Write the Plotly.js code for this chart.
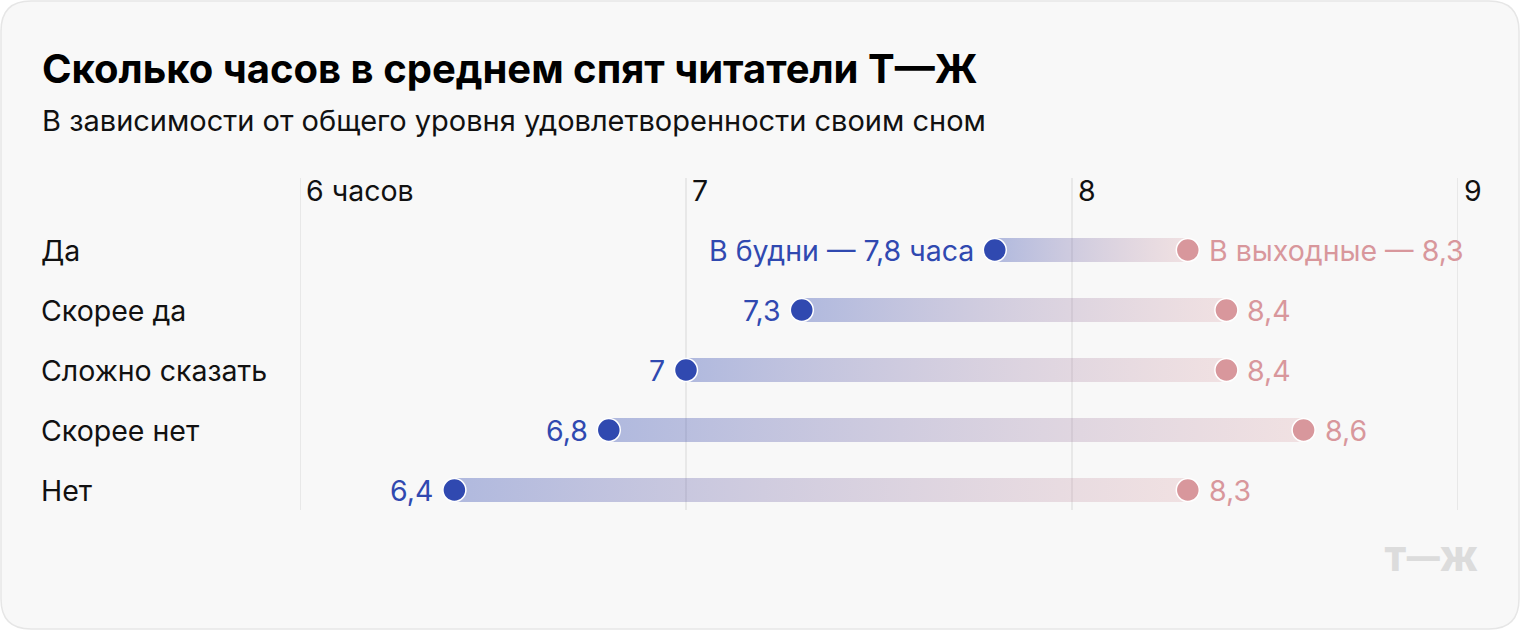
<!DOCTYPE html>
<html><head><meta charset="utf-8">
<script src="https://cdn.plot.ly/plotly-3.0.1.min.js"></script>
<style>html,body{margin:0;padding:0;background:#fff;}#chart{width:1520px;height:630px;}</style>
</head><body><div id="chart"></div>
<script>
// ---- data ----
const categories = ['Да', 'Скорее да', 'Сложно сказать', 'Скорее нет', 'Нет'];
const weekdays = [7.8, 7.3, 7.0, 6.8, 6.4];
const weekends = [8.3, 8.4, 8.4, 8.6, 8.3];
const tickValues = [6, 7, 8, 9];
const tickLabels = ['6 часов', '7', '8', '9'];
const weekdayPrefix = 'В будни — ';
const weekdaySuffix = ' часа';
const weekendPrefix = 'В выходные — ';
const titleText = 'Сколько часов в среднем спят читатели Т—Ж';
const subtitleText = 'В зависимости от общего уровня удовлетворенности своим сном';
const logoText = 'Т—Ж';

// ---- layout geometry ----
const W = 1520, H = 630;
const M = {l: 300, r: 62, t: 178, b: 120};
const PW = W - M.l - M.r, PH = H - M.t - M.b;
const px = x => (x - M.l) / PW;           // pixel x -> paper x
const py = y => (H - M.b - y) / PH;       // pixel y -> paper y
const FONT = 'Inter, Roboto, sans-serif';
const BLUE = '#3049b0', PINK = '#d8979c';
const fmt = v => String(v).replace('.', ',');
const HALF = 0.2; // half bar thickness in row units
const FS = 28.5;

const traces = [];
categories.forEach((c, i) => {
  const a = weekdays[i], b = weekends[i];
  traces.push({
    type: 'scatter', mode: 'lines', x: [a, b, b, a, a], y: [i - HALF, i - HALF, i + HALF, i + HALF, i - HALF],
    fill: 'toself', line: {width: 0, color: 'rgba(0,0,0,0)'},
    fillgradient: {type: 'horizontal', colorscale: [[0, 'rgba(48,73,176,0.36)'], [1, 'rgba(216,151,156,0.24)']]},
    hoverinfo: 'skip', showlegend: false
  });
});
traces.push({
  type: 'scatter', mode: 'markers', x: weekends, y: categories.map((c, i) => i),
  marker: {size: 23, color: PINK, line: {color: '#ffffff', width: 1.5}}, hoverinfo: 'skip', showlegend: false, cliponaxis: false
});
traces.push({
  type: 'scatter', mode: 'markers', x: weekdays, y: categories.map((c, i) => i),
  marker: {size: 23, color: BLUE, line: {color: '#ffffff', width: 1.5}}, hoverinfo: 'skip', showlegend: false, cliponaxis: false
});

const annotations = [];
annotations.push({text: '<b>' + titleText + '</b>', xref: 'paper', yref: 'paper', x: px(40), y: py(68), xanchor: 'left', yanchor: 'middle', showarrow: false, font: {family: FONT, size: 40, color: '#000'}});
annotations.push({text: subtitleText, xref: 'paper', yref: 'paper', x: px(40), y: py(120), xanchor: 'left', yanchor: 'middle', showarrow: false, font: {family: FONT, size: 29, color: '#111'}});
tickValues.forEach((t, k) => {
  annotations.push({text: tickLabels[k], xref: 'x', yref: 'paper', x: t, xshift: 4, y: py(190), xanchor: 'left', yanchor: 'middle', showarrow: false, font: {family: FONT, size: FS, color: '#111'}});
});
categories.forEach((c, i) => {
  annotations.push({text: c, xref: 'paper', yref: 'y', x: px(39), y: i, xanchor: 'left', yanchor: 'middle', showarrow: false, font: {family: FONT, size: FS, color: '#111'}});
  const wd = i === 0 ? weekdayPrefix + fmt(weekdays[i]) + weekdaySuffix : fmt(weekdays[i]);
  const we = i === 0 ? weekendPrefix + fmt(weekends[i]) : fmt(weekends[i]);
  annotations.push({text: wd, xref: 'x', yref: 'y', x: weekdays[i], xshift: -19, y: i, xanchor: 'right', yanchor: 'middle', showarrow: false, font: {family: FONT, size: FS, color: BLUE}});
  annotations.push({text: we, xref: 'x', yref: 'y', x: weekends[i], xshift: 19, y: i, xanchor: 'left', yanchor: 'middle', showarrow: false, font: {family: FONT, size: FS, color: PINK}});
});
annotations.push({text: logoText, xref: 'paper', yref: 'paper', x: px(1480), y: py(559), xanchor: 'right', yanchor: 'middle', showarrow: false, font: {family: FONT, size: 33, weight: 900, color: '#dcdcdc'}});

// card background (rounded rect) in paper coordinates
const L = 1, R = 1519, T = 1, B = 629, RAD = 30;
const card = 'M ' + px(L + RAD) + ' ' + py(T) +
  ' L ' + px(R - RAD) + ' ' + py(T) + ' Q ' + px(R) + ' ' + py(T) + ' ' + px(R) + ' ' + py(T + RAD) +
  ' L ' + px(R) + ' ' + py(B - RAD) + ' Q ' + px(R) + ' ' + py(B) + ' ' + px(R - RAD) + ' ' + py(B) +
  ' L ' + px(L + RAD) + ' ' + py(B) + ' Q ' + px(L) + ' ' + py(B) + ' ' + px(L) + ' ' + py(B - RAD) +
  ' L ' + px(L) + ' ' + py(T + RAD) + ' Q ' + px(L) + ' ' + py(T) + ' ' + px(L + RAD) + ' ' + py(T) + ' Z';
const shapes = [{type: 'path', xref: 'paper', yref: 'paper', path: card, fillcolor: '#f8f8f8', line: {color: '#e6e6e6', width: 1.5}, layer: 'below'}];
tickValues.forEach(t => {
  shapes.push({type: 'line', xref: 'x', yref: 'paper', x0: t, x1: t, y0: 0, y1: 1, line: {color: '#dedede', width: 1.2}, layer: 'below'});
});

const layout = {
  width: W, height: H, margin: M, paper_bgcolor: '#ffffff', plot_bgcolor: 'rgba(0,0,0,0)',
  xaxis: {range: [6, 9], showgrid: false, zeroline: false, showticklabels: false, showline: false, fixedrange: true},
  yaxis: {range: [4 + 1/3, -1.2], showgrid: false, zeroline: false, showticklabels: false, showline: false, fixedrange: true},
  showlegend: false, annotations, shapes, hovermode: false
};
Plotly.newPlot('chart', traces, layout, {displayModeBar: false, staticPlot: true});
</script></body></html>
